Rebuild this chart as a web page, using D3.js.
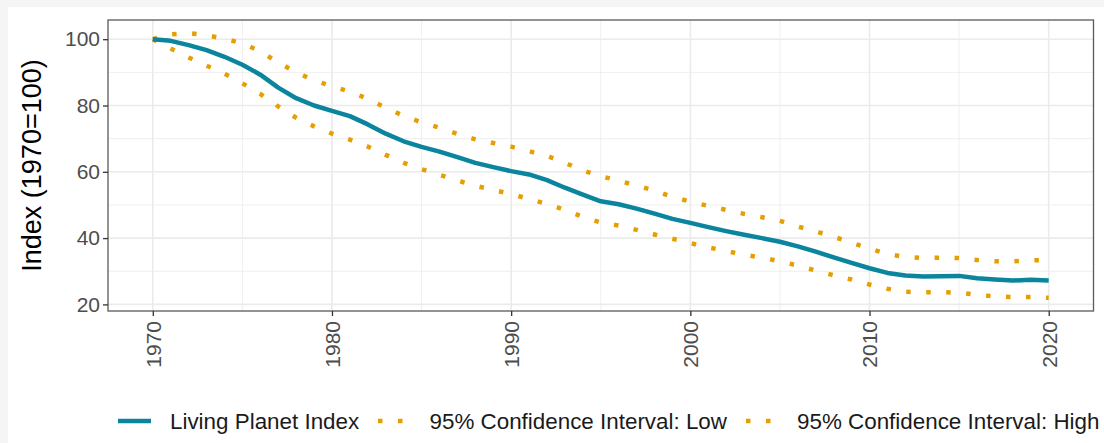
<!DOCTYPE html>
<html>
<head>
<meta charset="utf-8">
<script src="https://cdn.jsdelivr.net/npm/d3@7"></script>
<style>
  html, body { margin: 0; padding: 0; background: #f5f5f5; }
  svg { display: block; font-family: "Liberation Sans", Arial, sans-serif; }
</style>
</head>
<body>
<svg id="chart" width="1104" height="443"></svg>
<script>
// Living Planet Index, global, 1970 = 100, with 95% confidence bounds
const years = d3.range(1970, 2021);

const lpi = [
  100, 99.5, 98.2, 96.7, 94.7, 92.3, 89.3, 85.4, 82.2, 80.0,
  78.4, 76.8, 74.3, 71.5, 69.2, 67.5, 66.1, 64.4, 62.7, 61.4,
  60.2, 59.2, 57.5, 55.2, 53.1, 51.1, 50.2, 48.9, 47.4, 45.8,
  44.6, 43.3, 42.1, 41.0, 40.0, 38.9, 37.5, 35.9, 34.2, 32.5,
  30.9, 29.5, 28.7, 28.4, 28.5, 28.6, 27.9, 27.5, 27.2, 27.4,
  27.2
];

const ciLow = [
  100, 97.2, 94.5, 92.0, 89.6, 86.7, 83.5, 79.7, 76.3, 73.7,
  71.5, 69.7, 67.6, 65.1, 62.7, 60.8, 59.1, 57.4, 55.8, 54.5,
  53.3, 51.8, 50.3, 48.5, 46.4, 44.7, 43.8, 42.5, 41.1, 39.8,
  38.5, 37.2, 36.1, 35.0, 34.1, 33.0, 31.7, 30.2, 28.8, 27.5,
  26.0, 24.7, 23.8, 23.7, 23.7, 23.5, 22.9, 22.4, 22.2, 22.2,
  22.0
];

const ciHigh = [
  100, 101.5, 101.8, 101.2, 100.1, 98.8, 96.3, 93.0, 90.0, 87.6,
  85.8, 84.2, 82.0, 79.3, 76.9, 74.9, 73.3, 71.4, 69.8, 68.7,
  67.6, 66.2, 64.8, 62.7, 60.4, 58.7, 57.3, 55.9, 54.3, 52.4,
  51.0, 49.7, 48.5, 47.3, 46.3, 45.2, 43.5, 42.0, 40.4, 38.6,
  36.8, 35.2, 34.3, 34.0, 34.1, 34.0, 33.4, 33.0, 33.0, 33.3,
  33.3
];

const xTicks = [1970, 1980, 1990, 2000, 2010, 2020];
const xMinor = [1975, 1985, 1995, 2005, 2015];
const yTicks = [20, 40, 60, 80, 100];
const yMinor = [30, 50, 70, 90];

const seriesNames = ["Living Planet Index", "95% Confidence Interval: Low", "95% Confidence Interval: High"];
const yTitle = "Index (1970=100)";

const colLPI = "#0b859e";
const colCI = "#e69f00";

const svg = d3.select("#chart");
const W = 1104, H = 443;

// page background: light frame with white plot canvas
svg.append("rect").attr("width", W).attr("height", H).attr("fill", "#f5f5f5");
svg.append("rect").attr("x", 8).attr("y", 7).attr("width", W - 8).attr("height", H - 7).attr("fill", "#ffffff");

const panel = { left: 108, right: 1093.5, top: 20, bottom: 311 };

// ggplot-style 5% expansion of the data range
function expand(lo, hi) { const d = (hi - lo) * 0.05; return [lo - d, hi + d]; }
const allVals = ciLow.concat(lpi, ciHigh);
const xDom = expand(d3.min(years), d3.max(years));
const yDom = expand(d3.min(allVals), d3.max(allVals));

const x = d3.scaleLinear().domain(xDom).range([panel.left, panel.right]);
const y = d3.scaleLinear().domain(yDom).range([panel.bottom, panel.top]);

// grid
const grid = svg.append("g");
function hLines(vals, w) {
  grid.append("g").selectAll("line").data(vals).join("line")
    .attr("x1", panel.left).attr("x2", panel.right)
    .attr("y1", d => y(d)).attr("y2", d => y(d))
    .attr("stroke", "#ebebeb").attr("stroke-width", w);
}
function vLines(vals, w) {
  grid.append("g").selectAll("line").data(vals).join("line")
    .attr("y1", panel.top).attr("y2", panel.bottom)
    .attr("x1", d => x(d)).attr("x2", d => x(d))
    .attr("stroke", "#ebebeb").attr("stroke-width", w);
}
hLines(yMinor, 0.8); vLines(xMinor, 0.8);
hLines(yTicks, 1.6); vLines(xTicks, 1.6);

// series
const line = d3.line().x((d, i) => x(years[i])).y(d => y(d));
const plot = svg.append("g");

[ciLow, ciHigh].forEach(s => {
  plot.append("path").datum(s).attr("d", line)
    .attr("fill", "none").attr("stroke", colCI).attr("stroke-width", 4.5)
    .attr("stroke-dasharray", "4.5 15.5").attr("stroke-linecap", "butt");
});
plot.append("path").datum(lpi).attr("d", line)
  .attr("fill", "none").attr("stroke", colLPI).attr("stroke-width", 4.5)
  .attr("stroke-linejoin", "round").attr("stroke-linecap", "butt");

// panel border
svg.append("rect")
  .attr("x", panel.left).attr("y", panel.top)
  .attr("width", panel.right - panel.left).attr("height", panel.bottom - panel.top)
  .attr("fill", "none").attr("stroke", "#5a5a5a").attr("stroke-width", 1.3);

// axes
const yAxis = svg.append("g").attr("transform", `translate(${panel.left},0)`)
  .call(d3.axisLeft(y).tickValues(yTicks).tickSize(5).tickPadding(3).tickFormat(d3.format("d")));
const xAxis = svg.append("g").attr("transform", `translate(0,${panel.bottom})`)
  .call(d3.axisBottom(x).tickValues(xTicks).tickSize(5).tickPadding(3).tickFormat(d3.format("d")));

[yAxis, xAxis].forEach(g => {
  g.select(".domain").remove();
  g.selectAll(".tick line").attr("stroke", "#333333").attr("stroke-width", 1.3);
  g.selectAll(".tick text").attr("fill", "#4d4d4d").attr("font-size", 21)
    .attr("font-family", "Liberation Sans, Arial, sans-serif");
});

xAxis.selectAll(".tick text")
  .attr("transform", "rotate(-90)")
  .attr("x", -10).attr("y", 0).attr("dy", "0.35em")
  .attr("text-anchor", "end");

// y title
svg.append("text")
  .attr("transform", `translate(41,${(panel.top + panel.bottom) / 2}) rotate(-90)`)
  .attr("text-anchor", "middle")
  .attr("font-size", 27).attr("fill", "#000")
  .text(yTitle);

// legend
const legY = 421;
const leg = svg.append("g");
const keys = [
  { x0: 118, x1: 151, tx: 170, color: colLPI, dash: null },
  { x0: 378, x1: 403, tx: 429.5, color: colCI, dash: "4.5 15.5" },
  { x0: 746, x1: 771, tx: 797, color: colCI, dash: "4.5 15.5" }
];
keys.forEach((k, i) => {
  const l = leg.append("line")
    .attr("x1", k.x0).attr("x2", k.x1).attr("y1", legY).attr("y2", legY)
    .attr("stroke", k.color).attr("stroke-width", 4.5);
  if (k.dash) l.attr("stroke-dasharray", k.dash);
  leg.append("text")
    .attr("x", k.tx).attr("y", legY).attr("dy", "0.35em")
    .attr("font-size", 22.4).attr("fill", "#1a1a1a")
    .text(seriesNames[i]);
});
</script>
</body>
</html>
